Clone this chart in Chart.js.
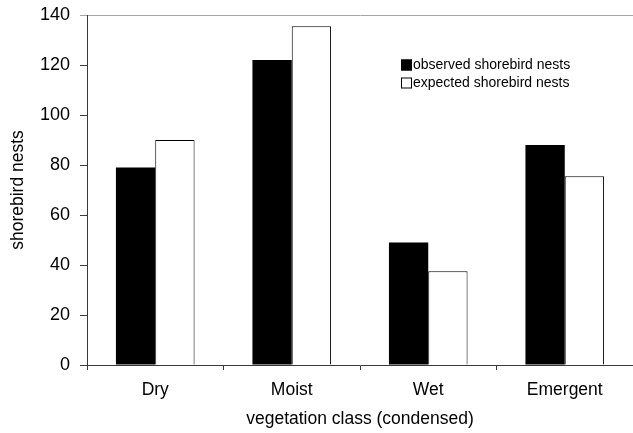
<!DOCTYPE html>
<html>
<head>
<meta charset="utf-8">
<script src="https://cdn.jsdelivr.net/npm/chart.js@4/dist/chart.umd.min.js"></script>
<style>
  html, body { margin: 0; padding: 0; background: #fff; }
  #wrap { width: 633px; height: 433px; }
</style>
</head>
<body>
<div id="wrap"><canvas id="c" width="633" height="433"></canvas></div>
<script>
const categories = ["Dry", "Moist", "Wet", "Emergent"];
const observedNests = [79, 122, 49, 88];
const expectedNests = [90, 135.5, 37.5, 75.5];
const seriesLabels = ["observed shorebird nests", "expected shorebird nests"];
const yTicks = [0, 20, 40, 60, 80, 100, 120, 140];
const xTitle = "vegetation class (condensed)";
const yTitle = "shorebird nests";

const FONT = "'Liberation Sans', Arial, sans-serif";
const AXIS = "#3a3a3a";
const TOPLINE = "#a6a6a6";

const insideLegend = {
  id: 'insideLegend',
  afterDraw(chart) {
    const ctx = chart.ctx;
    ctx.save();
    ctx.font = "14px " + FONT;
    ctx.textBaseline = 'middle';
    ctx.textAlign = 'left';
    const x0 = 401, y0 = 65, step = 18, box = 11;
    chart.data.datasets.forEach((ds, i) => {
      const cy = y0 + i * step;
      ctx.fillStyle = ds.backgroundColor;
      ctx.fillRect(x0, cy - box / 2, box, box);
      ctx.strokeStyle = '#000';
      ctx.lineWidth = 1;
      ctx.strokeRect(x0 + 0.5, cy - box / 2 + 0.5, box - 1, box - 1);
      ctx.fillStyle = '#000';
      ctx.fillText(ds.label, x0 + box + 1, cy);
    });
    ctx.restore();
  }
};

new Chart(document.getElementById('c'), {
  type: 'bar',
  data: {
    labels: categories,
    datasets: [
      { label: seriesLabels[0], data: observedNests, backgroundColor: '#000000', borderColor: '#000000', borderWidth: 0 },
      { label: seriesLabels[1], data: expectedNests, backgroundColor: '#ffffff', borderColor: '#000000', borderWidth: 1 }
    ]
  },
  options: {
    responsive: false,
    animation: false,
    devicePixelRatio: 1,
    layout: { padding: { top: 15, right: 0, left: 0, bottom: 0 } },
    plugins: { legend: { display: false }, tooltip: { enabled: false } },
    datasets: { bar: { categoryPercentage: 0.576, barPercentage: 1.0 } },
    scales: {
      x: {
        grid: {
          offset: true,
          drawOnChartArea: false,
          drawTicks: true,
          tickLength: 5,
          tickColor: AXIS,
          lineWidth: 1
        },
        border: { display: true, color: AXIS, width: 1 },
        ticks: { color: '#000', font: { family: FONT, size: 17.5 }, padding: 10, maxRotation: 0 },
        title: { display: true, text: xTitle, color: '#000', font: { family: FONT, size: 17.5 }, padding: { top: 0, bottom: 3 } },
        afterFit(scale) { scale.height = 68; scale.paddingLeft = 0; scale.paddingRight = 0; }
      },
      y: {
        min: 0,
        max: 140,
        afterBuildTicks(scale) { scale.ticks = yTicks.map(v => ({ value: v })); },
        grid: {
          drawOnChartArea: true,
          drawTicks: true,
          tickLength: 7,
          color: ctx => (ctx.tick && ctx.tick.value === 140) ? TOPLINE : 'rgba(0,0,0,0)',
          tickColor: ctx => (ctx.tick && ctx.tick.value === 140) ? TOPLINE : AXIS,
          lineWidth: 1
        },
        border: { display: true, color: AXIS, width: 1 },
        ticks: { color: '#000', font: { family: FONT, size: 18 }, padding: 10 },
        title: { display: true, text: yTitle, color: '#000', font: { family: FONT, size: 17.5 }, padding: { top: 8, bottom: 0 } },
        afterFit(scale) { scale.width = 87; scale.paddingTop = 0; scale.paddingBottom = 0; }
      }
    }
  },
  plugins: [insideLegend]
});
</script>
</body>
</html>
